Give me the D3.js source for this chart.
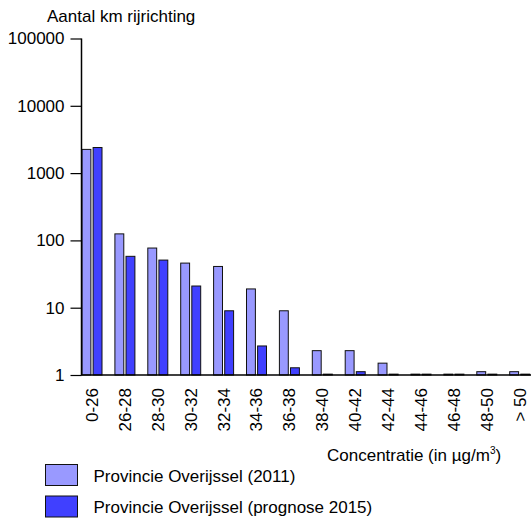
<!DOCTYPE html>
<html><head><meta charset="utf-8">
<script src="https://cdn.jsdelivr.net/npm/d3@7"></script>
<style>body{margin:0;background:#fff}text{font-family:"Liberation Sans",Arial,sans-serif}</style>
</head><body><svg id="c" width="531" height="519"></svg>
<script>
const categories = ["0-26","26-28","28-30","30-32","32-34","34-36","36-38","38-40","40-42","42-44","44-46","46-48","48-50","> 50"];
const series = ["Provincie Overijssel (2011)","Provincie Overijssel (prognose 2015)"];
const values2011 = [2250, 125, 77, 46, 41, 19, 9, 2.3, 2.3, 1.5, 1.03, 1.03, 1.12, 1.12];
const values2015 = [2400, 58, 51, 21, 9, 2.7, 1.28, 1.03, 1.12, 1.03, 1.03, 1.03, 1.03, 1.03];
const yTicks = [1, 10, 100, 1000, 10000, 100000];
const colors = ["#9999ff", "#4040ff"];
const FS = 17;

const svg = d3.select("#c");
const y = d3.scaleLog().domain([1, 100000]).range([375, 38.5]);
const x0 = d3.scaleBand().domain(categories).range([75.5, 75.5 + 32.9 * categories.length]);
const x1 = d3.scaleBand().domain(series).range([6.5, 26.5]).paddingInner(0.2);

// bars
const data = categories.map((c, i) => ({c, vals: [values2011[i], values2015[i]]}));
const g = svg.append("g").selectAll("g").data(data).join("g")
  .attr("transform", d => `translate(${x0(d.c)},0)`);
g.selectAll("rect").data(d => d.vals.map((v, j) => ({s: series[j], v, j}))).join("rect")
  .attr("x", d => x1(d.s)).attr("width", x1.bandwidth())
  .attr("y", d => y(d.v)).attr("height", d => y(1) - y(d.v))
  .attr("fill", d => colors[d.j]).attr("stroke", "#111").attr("stroke-width", 1);

// y axis
const ya = svg.append("g").attr("transform", "translate(81.5,0)")
  .call(d3.axisLeft(y).tickValues(yTicks).tickFormat(d3.format("d")).tickSize(11).tickPadding(6));
ya.select(".domain").attr("d", `M0,${y(100000)}V${y(1)}`).attr("stroke", "#000").attr("stroke-width", 1.5);
ya.selectAll(".tick line").attr("stroke", "#000").attr("stroke-width", 1.2);
ya.selectAll(".tick text").attr("font-size", FS).attr("fill", "#000").attr("font-family", "Liberation Sans, Arial, sans-serif");

// x baseline
svg.append("line").attr("x1", 81).attr("x2", 531).attr("y1", y(1)).attr("y2", y(1))
  .attr("stroke", "#000").attr("stroke-width", 1.5);

// x labels
svg.append("g").selectAll("text").data(categories).join("text")
  .attr("transform", d => `translate(${x0(d) + 16.5},388) rotate(-90)`)
  .attr("text-anchor", "end").attr("dy", "0.35em").attr("font-size", FS).text(d => d);

// titles
svg.append("text").attr("x", 47).attr("y", 22).attr("font-size", FS).text("Aantal km rijrichting");
const t = svg.append("text").attr("x", 327).attr("y", 461).attr("font-size", FS);
t.append("tspan").text("Concentratie (in µg/m");
t.append("tspan").attr("font-size", 10).attr("dy", -7).text("3");
t.append("tspan").attr("dy", 7).text(")");

// legend
const lg = svg.append("g").selectAll("g").data(series).join("g")
  .attr("transform", (d, i) => `translate(45.5,${464.5 + i * 31.5})`);
lg.append("rect").attr("width", 32).attr("height", 21).attr("fill", (d, i) => colors[i]).attr("stroke", "#111");
lg.append("text").attr("x", 48).attr("y", 17).attr("font-size", FS).text(d => d);
</script></body></html>
